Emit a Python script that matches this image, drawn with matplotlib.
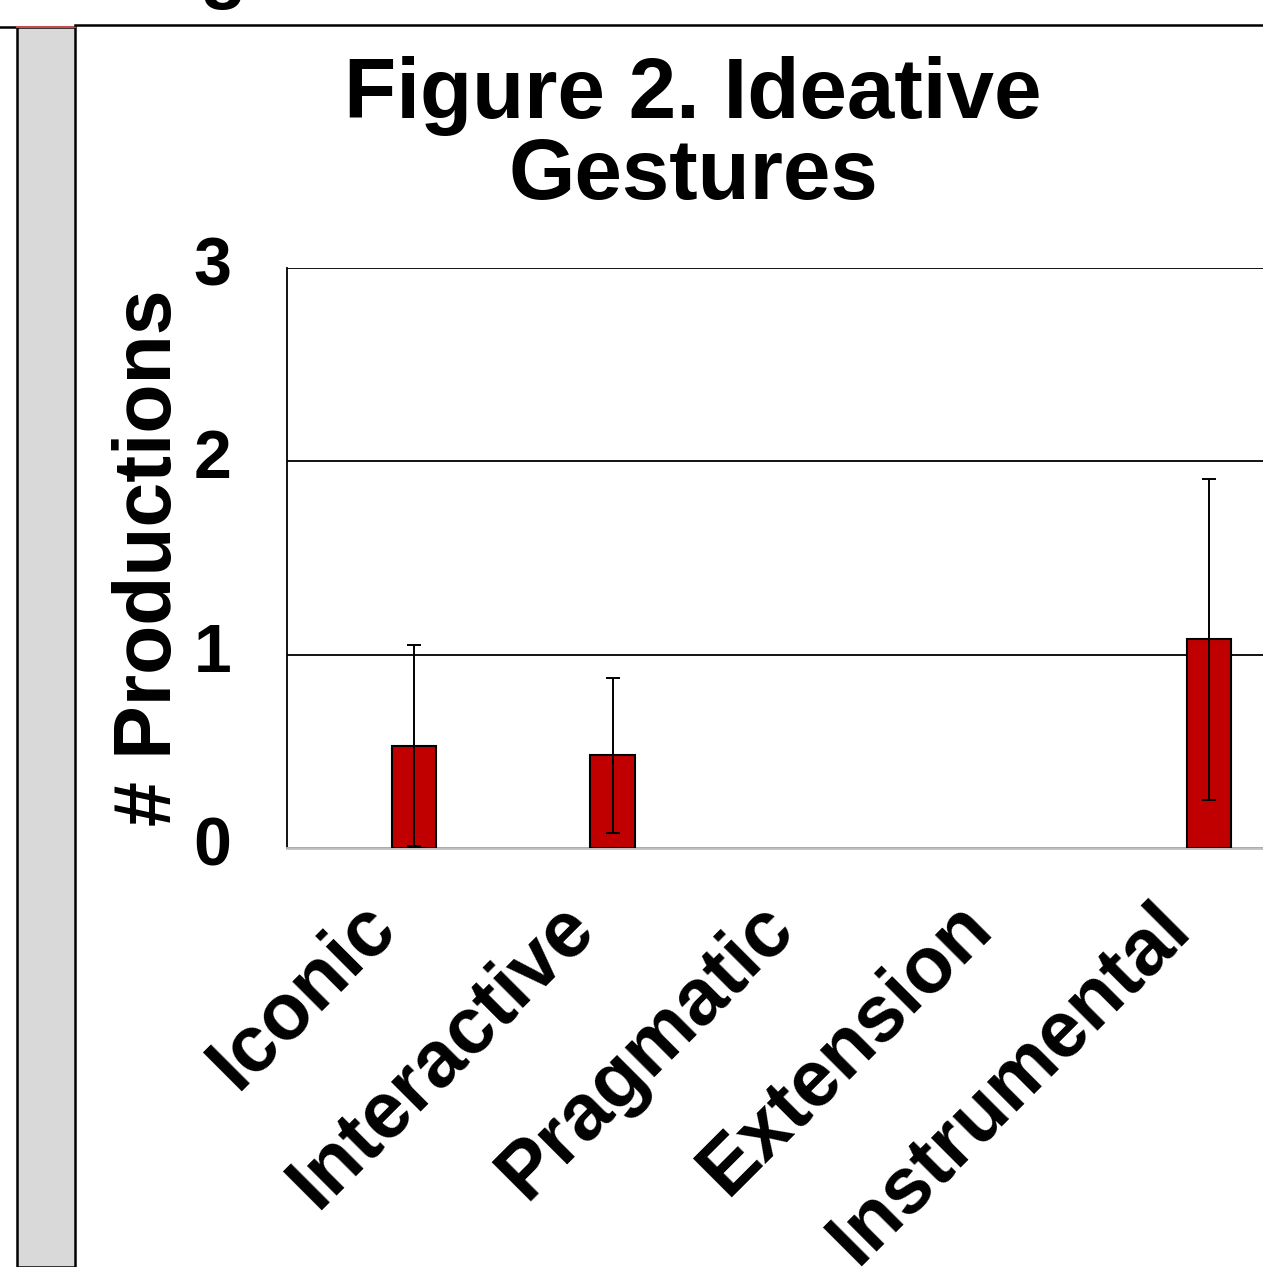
import numpy as np
import matplotlib.pyplot as plt
from matplotlib.patches import Rectangle
from matplotlib.lines import Line2D
from matplotlib.transforms import ScaledTranslation

plt.rcParams['font.family'] = ['Liberation Sans', 'DejaVu Sans']
plt.rcParams['font.weight'] = 'bold'

categorias = ["Iconic", "Interactive", "Pragmatic", "Extension", "Instrumental"]
medias = [0.53, 0.48, 0.0, 0.0, 1.08]
errores = [0.52, 0.40, 0.0, 0.0, 0.83]

fig = plt.figure(figsize=(12.63, 12.67), dpi=100)

# restos del grafico vecino a la izquierda
fig.add_artist(Rectangle((17/1263, 0), 58/1263, 1 - 27/1267, transform=fig.transFigure,
                         facecolor="#d9d9d9", edgecolor="black", lw=1.8))
fig.add_artist(Line2D([0, 17/1263], [1 - 27/1267]*2, transform=fig.transFigure, color="black", lw=1.8))
fig.add_artist(Line2D([17/1263, 75/1263], [1 - 27/1267]*2, transform=fig.transFigure, color="#c0504d", lw=1.5))
fig.add_artist(Line2D([75/1263, 1], [1 - 25/1267]*2, transform=fig.transFigure, color="black", lw=1.8))
fig.text(223/1263, 1 + 6/1267, "g", fontsize=55, ha="center", va="baseline")

ax = fig.add_axes([287/1263, 419/1267, 1 - 287/1263 + 0.01, 580/1267])
x = np.arange(len(categorias))
bordes = [1.5 if v > 0 else 0 for v in medias]
ax.bar(x, medias, width=0.225, color="#c00000", edgecolor="black", lw=bordes, zorder=3)
mask = np.array(errores) > 0
ax.errorbar(x[mask], np.array(medias)[mask], yerr=np.array(errores)[mask], fmt="none",
            ecolor="black", elinewidth=1.4, capsize=5, capthick=1.4, zorder=4)

ax.set_xlim(-0.639, 4.272 + 0.01 * 1263 / 198.75)
ax.set_ylim(0, 3)
ax.set_yticks([0, 1, 2, 3])
ax.set_yticklabels(["0", "1", "2", "3"], fontsize=49, fontweight="bold")
ax.tick_params(axis="y", length=0, pad=40)
ax.yaxis.grid(True, color="black", lw=1.3)
ax.set_axisbelow(True)
ax.set_xticks(x)
ax.set_xticklabels(categorias, fontsize=57, fontweight="bold", rotation=45,
                   ha="right", va="center", rotation_mode="anchor")
ax.tick_params(axis="x", length=0, pad=40)
for lab in ax.get_xticklabels():
    lab.set_transform(lab.get_transform() + ScaledTranslation(-0.3, -0.12, fig.dpi_scale_trans))
for lab in ax.get_yticklabels():
    lab.set_transform(lab.get_transform() + ScaledTranslation(0, 0.08, fig.dpi_scale_trans))
for s in ["top", "right"]:
    ax.spines[s].set_visible(False)
ax.spines["left"].set_color("black")
ax.spines["left"].set_linewidth(1.3)
ax.spines["bottom"].set_color("#bfbfbf")
ax.spines["bottom"].set_linewidth(2)

ax.set_ylabel("# Productions", fontsize=58, fontweight="bold")
ax.yaxis.set_label_coords(-(287 - 189) / (1263 - 287), 0.5)

fig.text(693/1263, 1 - 56/1267, "Figure 2. Ideative\nGestures", fontsize=61.5, fontweight="bold",
         ha="center", va="top", linespacing=1.02)

fig.savefig("out.png", dpi=100)
